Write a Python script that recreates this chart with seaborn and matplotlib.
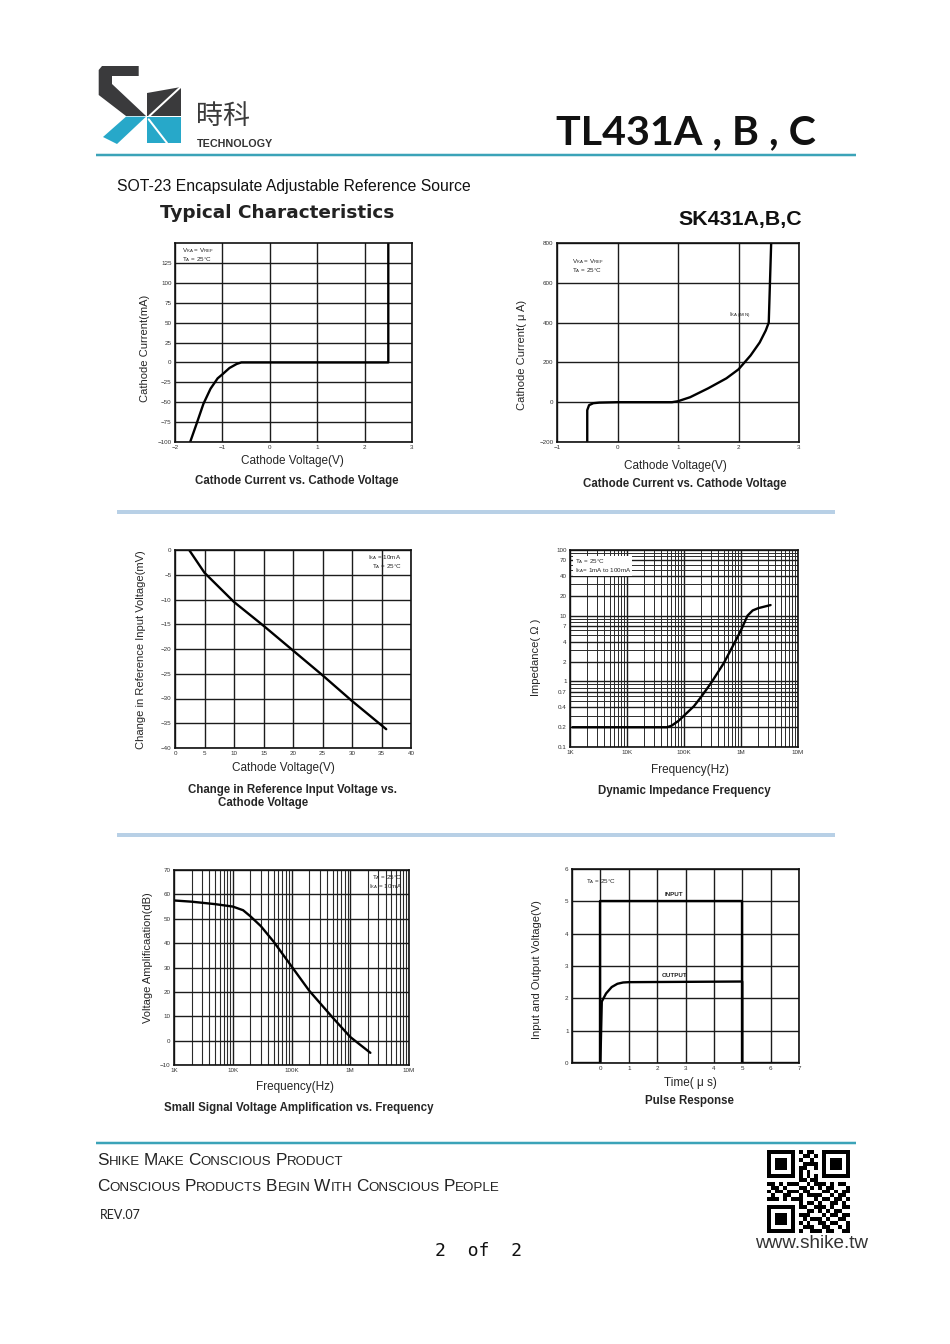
import matplotlib
matplotlib.use("Agg")
import matplotlib.pyplot as plt
import matplotlib.ticker as mticker
from matplotlib.lines import Line2D
from matplotlib.patches import Polygon
import numpy as np
import seaborn as sns

# curve values
cc1_volt = [-1.68, -1.55, -1.4, -1.25, -1.1, -1.0, -0.85, -0.7, -0.6, 0.0, 1.0, 2.0, 2.5, 2.5]
cc1_curr = [-100, -78, -52, -33, -20, -15, -7, -2, 0, 0, 0, 0, 0, 150]

cc2_volt = [-0.5, -0.5, -0.47, -0.4, -0.3, 0.0, 0.5, 0.9, 1.0, 1.2, 1.5, 1.8, 2.0, 2.2, 2.35, 2.45, 2.5, 2.52, 2.54]
cc2_curr = [-200, -40, -15, -5, -2, 0, 0, 0, 5, 25, 70, 120, 165, 235, 300, 360, 400, 600, 800]

ref_volt = [2.4, 5, 10, 15, 20, 25, 30, 35.8]
ref_dmv = [0, -4.6, -10.5, -15.3, -20.3, -25.3, -30.5, -36.2]

imp_freq = [1.1e3, 1e4, 3e4, 5e4, 6e4, 8e4, 1e5, 1.5e5, 2e5, 3e5, 5e5, 7e5, 1e6, 1.3e6, 1.6e6, 2e6, 3.3e6]
imp_ohm = [0.2, 0.2, 0.2, 0.2, 0.21, 0.25, 0.3, 0.42, 0.58, 0.95, 1.9, 3.3, 6, 10, 12, 13, 14.5]
imp_ticks = [0.1, 0.2, 0.4, 0.7, 1, 2, 4, 7, 10, 20, 40, 70, 100]
imp_labels = ["0.1", "0.2", "0.4", "0.7", "1", "2", "4", "7", "10", "20", "40", "70", "100"]

gain_freq = [1e3, 2e3, 5e3, 1e4, 1.5e4, 2e4, 3e4, 5e4, 1e5, 2e5, 5e5, 1e6, 2.2e6]
gain_db = [57.5, 57, 56, 55, 53.5, 51, 47, 40.5, 30.5, 20.5, 9.5, 1.5, -5]

freq_ticks = [1e3, 1e4, 1e5, 1e6, 1e7]
freq_labels = ["1K", "10K", "100K", "1M", "10M"]

pulse_t_in = [-1, 0, 0, 5, 5, 7]
pulse_v_in = [0, 0, 5, 5, 0, 0]
pulse_t_out = [0, 0.05, 0.2, 0.4, 0.6, 0.8, 1.0, 5, 5]
pulse_v_out = [0, 1.9, 2.15, 2.35, 2.45, 2.49, 2.5, 2.52, 0]

qr_rows = [
    "111111101011001111111",
    "100000100110101000001",
    "101110101001001011101",
    "101110100111101011101",
    "101110101100101011101",
    "100000101010001000001",
    "111111101010101111111",
    "000000001101100000000",
    "110101110010111010110",
    "011010001101010110001",
    "101101110110001101011",
    "010011001011110010110",
    "111010111000101101101",
    "000000001011010011010",
    "111111101100111010011",
    "100000100011010101100",
    "101110101110001011011",
    "101110100101110100110",
    "101110101010011011001",
    "100000100111001100101",
    "111111101001110110011",
]

sns.set_theme(style="white")
plt.rcParams["font.family"] = ["Liberation Sans", "DejaVu Sans"]
plt.rcParams["mathtext.fontset"] = "custom"
plt.rcParams["mathtext.rm"] = "Liberation Sans"
plt.rcParams["mathtext.it"] = "Liberation Sans:italic"
plt.rcParams["mathtext.bf"] = "Liberation Sans:bold"

W, H = 950, 1344
TEAL = "#3ba3b8"
fig = plt.figure(figsize=(9.5, 13.44), dpi=100)
fig.patch.set_facecolor("white")
renderer = fig.canvas.get_renderer()


def px_ax(l, t, r, b):
    return fig.add_axes([l / W, 1 - b / H, (r - l) / W, (b - t) / H])


def ptext(x, y, s, **kw):
    kw.setdefault("ha", "center")
    kw.setdefault("va", "center")
    return fig.text(x / W, 1 - y / H, s, **kw)


def fit_text(x0, x1, y, s, **kw):
    # size the text so it spans x0..x1 like the scan
    t = fig.text(x0 / W, 1 - y / H, s, ha="left", va="center", **kw)
    w = t.get_window_extent(renderer).width
    t.set_fontsize(t.get_fontsize() * (x1 - x0) / w)
    return t


def hline(x0, x1, y, color, lw_px):
    fig.add_artist(Line2D([x0 / W, x1 / W], [1 - y / H, 1 - y / H], transform=fig.transFigure,
                          color=color, lw=lw_px * 0.72, solid_capstyle="butt"))


def seg(x0, y0, x1, y1, color, lw_px):
    fig.add_artist(Line2D([x0 / W, x1 / W], [1 - y0 / H, 1 - y1 / H], transform=fig.transFigure,
                          color=color, lw=lw_px * 0.72))


def poly(pts, color):
    fig.add_artist(Polygon([(x / W, 1 - y / H) for x, y in pts], closed=True,
                           transform=fig.transFigure, facecolor=color, edgecolor="none"))


def small_caps(x0, x1, y, s, big, small, **kw):
    # fake small caps, scaled so the line ends at x1
    def draw(scale):
        x = x0
        made = []
        for word in s.split():
            for part, size in ((word[0], big * scale), (word[1:].upper(), small * scale)):
                if not part:
                    continue
                t = fig.text(x / W, 1 - y / H, part, fontsize=size, ha="left", va="baseline", **kw)
                x = t.get_window_extent(renderer).x1
                made.append(t)
            x += big * scale * 0.32
        return made, made[-1].get_window_extent(renderer).x1
    made, end = draw(1.0)
    for t in made:
        t.remove()
    draw((x1 - x0) / (end - x0))


def style(ax):
    ax.set_facecolor("white")
    ax.grid(True, which="major", color="#1c1c1c", lw=1.0)
    ax.set_axisbelow(True)
    for sp in ax.spines.values():
        sp.set_visible(True)
        sp.set_color("#111111")
        sp.set_linewidth(1.2)
    ax.tick_params(axis="both", which="both", length=0, labelsize=4.5, pad=2.5, colors="#333333")
    ax.set_xlabel("")
    ax.set_ylabel("")


def curve(ax, x, y):
    sns.lineplot(x=x, y=y, ax=ax, color="black", lw=1.7, estimator=None, sort=False)


def note(ax, x, y, s, ha="left"):
    ax.text(x, y, s, transform=ax.transAxes, fontsize=4.5, ha=ha, va="top", linespacing=1.0,
            color="#222222")


# ---------- header ----------
DARK = "#3a3a3c"
BLUE = "#27a8c9"
poly([(98.7, 70), (102, 66), (138.7, 66), (138.7, 76), (112, 76), (112, 84),
      (146, 116), (126, 116), (98.7, 95)], DARK)
poly([(126, 116.7), (146, 116.7), (117, 144), (103, 137)], BLUE)
poly([(147, 93.3), (147, 116), (181.3, 116), (181.3, 86.7)], DARK)
seg(149.3, 116, 180.3, 87.3, "white", 2)
poly([(147, 117.3), (181.3, 117.3), (181.3, 143), (147, 143)], BLUE)
seg(148.7, 119.3, 167, 143, "white", 2)

fit_text(196, 250, 117, "時科", family=["Noto Sans CJK TC"], color="#3b3b3b", fontsize=20)
fit_text(197, 273, 144, "TECHNOLOGY", fontsize=6, fontweight="bold", color="#333333")
fit_text(556, 815, 133, "TL431A , B , C", fontsize=30, family=["Lato", "DejaVu Sans"],
         fontweight="bold", color="#111111")
hline(96, 856, 155, TEAL, 2.5)

fit_text(117, 473, 186, "SOT-23 Encapsulate Adjustable Reference Source", fontsize=10.5,
         family=["Liberation Sans Narrow", "Liberation Sans"], color="#111111")
fit_text(160, 393, 213, "Typical Characteristics", fontsize=13, fontweight="bold",
         family=["DejaVu Sans"], color="#222222")
fit_text(678, 802, 219, "SK431A,B,C", fontsize=14, fontweight="bold", color="#111111")

# ---------- chart 1 ----------
ax1 = px_ax(175, 243, 412, 442)
curve(ax1, cc1_volt, cc1_curr)
ax1.set_xlim(-2, 3)
ax1.set_ylim(-100, 150)
ax1.set_xticks(range(-2, 4))
ax1.set_yticks(range(-100, 150, 25))
style(ax1)
note(ax1, 0.03, 0.985, r"V$_\mathrm{KA}$ = V$_\mathrm{REF}$" + "\n" + r"T$_\mathrm{A}$ = 25°C")
ptext(145, 348, "Cathode Current(mA)", rotation=90, fontsize=8)
ptext(292, 461, "Cathode Voltage(V)", fontsize=8.5)
ptext(297, 481, "Cathode Current vs. Cathode Voltage", fontsize=8.3, fontweight="bold")

# ---------- chart 2 ----------
ax2 = px_ax(557, 243, 799, 442)
curve(ax2, cc2_volt, cc2_curr)
ax2.set_xlim(-1, 3)
ax2.set_ylim(-200, 800)
ax2.set_xticks(range(-1, 4))
ax2.set_yticks(range(-200, 801, 200))
style(ax2)
note(ax2, 0.06, 0.93, r"V$_\mathrm{KA}$ = V$_\mathrm{REF}$" + "\n" + r"T$_\mathrm{A}$ = 25°C")
ax2.text(1.85, 430, r"I$_\mathrm{KA\ (MIN)}$", fontsize=4.5, color="#222222")
ptext(522, 355, "Cathode Current( μ A)", rotation=90, fontsize=8)
ptext(675, 466, "Cathode Voltage(V)", fontsize=8.5)
ptext(685, 484, "Cathode Current vs. Cathode Voltage", fontsize=8.3, fontweight="bold")

hline(117, 835, 512, "#b8d0e6", 4)

# ---------- chart 3 ----------
ax3 = px_ax(175, 550, 411, 748)
curve(ax3, ref_volt, ref_dmv)
ax3.set_xlim(0, 40)
ax3.set_ylim(-40, 0)
ax3.set_xticks(range(0, 41, 5))
ax3.set_yticks(range(-40, 1, 5))
style(ax3)
note(ax3, 0.96, 0.985, r"I$_\mathrm{KA}$ = 10mA" + "\n" + r"T$_\mathrm{A}$ = 25°C", ha="right")
ptext(141, 650, "Change in Reference Input Voltage(mV)", rotation=90, fontsize=8)
ptext(283, 768, "Cathode Voltage(V)", fontsize=8.5)
ptext(293, 790, "Change in Reference Input Voltage vs.", fontsize=8.3, fontweight="bold")
ptext(263, 803, "Cathode Voltage", fontsize=8.3, fontweight="bold")

# ---------- chart 4 ----------
ax4 = px_ax(570, 550, 798, 747)
curve(ax4, imp_freq, imp_ohm)
ax4.set_xscale("log")
ax4.set_yscale("log")
ax4.set_xlim(1e3, 1e7)
ax4.set_ylim(0.1, 100)
ax4.set_xticks(freq_ticks, labels=freq_labels)
ax4.set_yticks(imp_ticks, labels=imp_labels)
ax4.yaxis.set_minor_locator(mticker.LogLocator(subs=np.arange(2, 10)))
ax4.xaxis.set_minor_locator(mticker.LogLocator(subs=np.arange(2, 10)))
ax4.yaxis.set_minor_formatter(mticker.NullFormatter())
ax4.xaxis.set_minor_formatter(mticker.NullFormatter())
style(ax4)
ax4.grid(True, which="minor", color="#2a2a2a", lw=0.7)
ax4.text(0.02, 0.965, r"T$_\mathrm{A}$ = 25°C" + "\n" + r"I$_\mathrm{KA}$= 1mA to 100mA",
         transform=ax4.transAxes, fontsize=4.5, va="top", ha="left", linespacing=1.0,
         bbox=dict(facecolor="white", edgecolor="none", pad=0.8))
ptext(536, 657, "Impedance( Ω )", rotation=90, fontsize=8)
ptext(690, 770, "Frequency(Hz)", fontsize=8.5)
ptext(684, 791, "Dynamic Impedance Frequency", fontsize=8.3, fontweight="bold")

hline(117, 835, 835, "#b8d0e6", 4)

# ---------- chart 5 ----------
ax5 = px_ax(174, 870, 409, 1065)
curve(ax5, gain_freq, gain_db)
ax5.set_xscale("log")
ax5.set_xlim(1e3, 1e7)
ax5.set_ylim(-10, 70)
ax5.set_xticks(freq_ticks, labels=freq_labels)
ax5.set_yticks(range(-10, 71, 10))
ax5.xaxis.set_minor_locator(mticker.LogLocator(subs=np.arange(2, 10)))
ax5.xaxis.set_minor_formatter(mticker.NullFormatter())
style(ax5)
ax5.grid(True, which="minor", axis="x", color="#2a2a2a", lw=0.8)
note(ax5, 0.97, 0.985, r"T$_\mathrm{A}$ = 25°C" + "\n" + r"I$_\mathrm{KA}$ = 10mA", ha="right")
ptext(148, 958, "Voltage Amplificaation(dB)", rotation=90, fontsize=8)
ptext(295, 1087, "Frequency(Hz)", fontsize=8.5)
ptext(299, 1108, "Small Signal Voltage Amplification vs. Frequency", fontsize=8.3, fontweight="bold")

# ---------- chart 6 ----------
ax6 = px_ax(572, 869, 799, 1063)
curve(ax6, pulse_t_in, pulse_v_in)
curve(ax6, pulse_t_out, pulse_v_out)
ax6.set_xlim(-1, 7)
ax6.set_ylim(0, 6)
ax6.set_xticks(range(-1, 8), labels=[""] + [str(i) for i in range(0, 8)])
ax6.set_yticks(range(0, 7))
style(ax6)
note(ax6, 0.06, 0.96, r"T$_\mathrm{A}$ = 25°C")
ax6.text(2.6, 5.12, "INPUT", fontsize=4.5, ha="center", va="bottom", fontweight="bold", color="#222222")
ax6.text(2.6, 2.64, "OUTPUT", fontsize=4.5, ha="center", va="bottom", fontweight="bold", color="#222222")
ptext(537, 970, "Input and Output Voltage(V)", rotation=90, fontsize=8)
ptext(690, 1083, "Time( μ s)", fontsize=8.5)
ptext(689, 1101, "Pulse Response", fontsize=8.3, fontweight="bold")

# ---------- footer ----------
hline(96, 856, 1143, TEAL, 2.5)
FOOT = ["Liberation Sans", "DejaVu Sans"]
small_caps(97, 343, 1165, "Shike Make Conscious Product", 11, 8.5, family=FOOT, color="#222222")
small_caps(97, 497, 1191, "Conscious Products Begin With Conscious People", 11, 8.5, family=FOOT, color="#222222")
ptext(100, 1215, "REV.07", ha="left", fontsize=9, family=["Lato", "DejaVu Sans"], color="#222222")
ptext(478, 1251, "2  of  2", fontsize=13, family=["DejaVu Sans Mono"], color="#111111")

qr = np.array([[int(c) for c in row.ljust(21, "0")[:21]] for row in qr_rows])
axq = px_ax(765, 1150, 852, 1233)
axq.imshow(qr, cmap="gray_r", interpolation="nearest")
axq.axis("off")
fit_text(755, 868, 1243, "www.shike.tw", fontsize=11, color="#333333")

fig.savefig("out.png", dpi=100, facecolor="white")
